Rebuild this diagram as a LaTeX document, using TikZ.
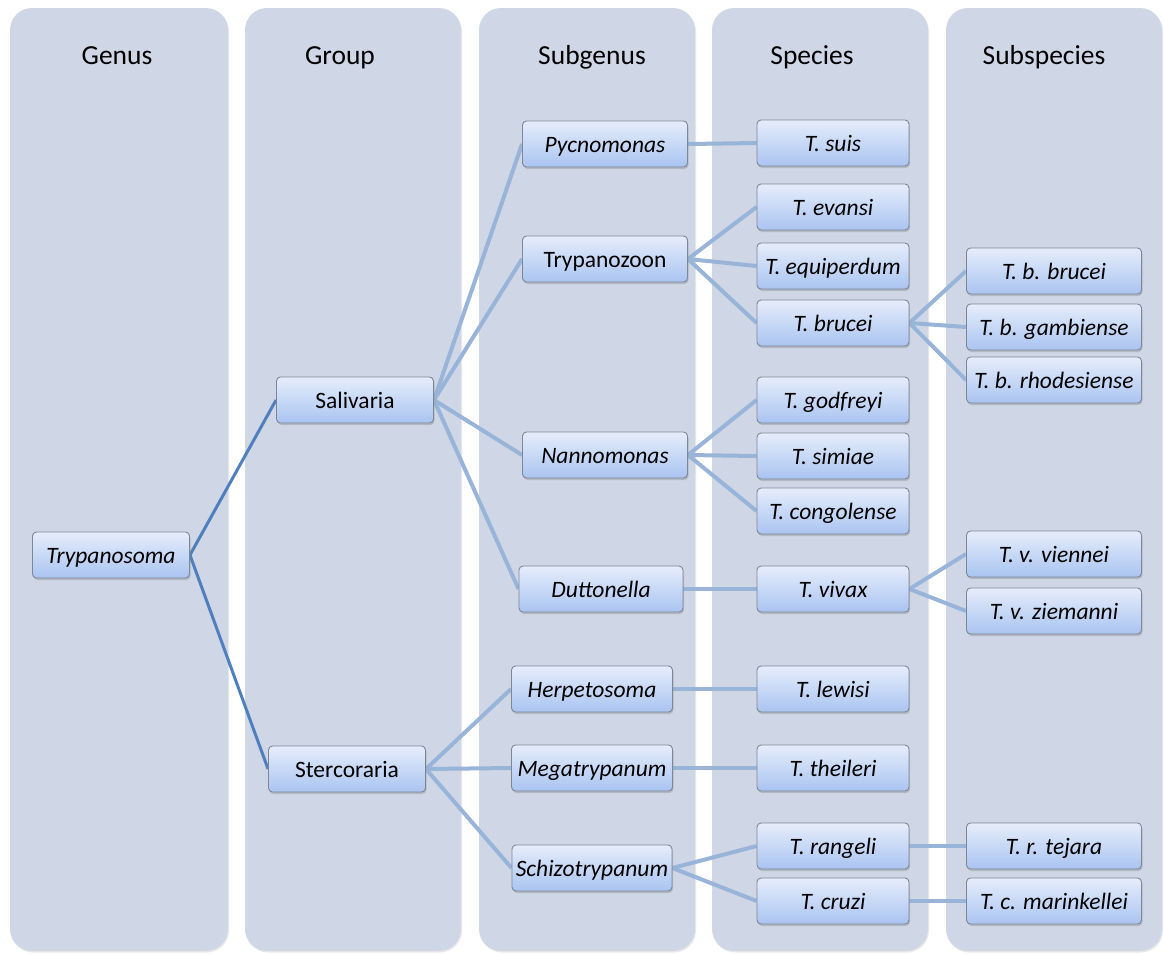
\documentclass[tikz,border=0pt]{standalone}
\usepackage{fontspec}
\setmainfont{Carlito}
\usetikzlibrary{shadows}
\pgfdeclarelayer{cols}
\pgfdeclarelayer{edges}
\pgfsetlayers{cols,edges,main}
\definecolor{colfill}{HTML}{CFD7E6}
\definecolor{boxtop}{HTML}{E6EDFB}
\definecolor{boxbot}{HTML}{A9C4F1}
\definecolor{boxline}{HTML}{7D8796}
\definecolor{darkedge}{HTML}{4F7FBD}
\definecolor{lightedge}{HTML}{98B4D8}
\tikzset{
  x=1pt, y=-1pt,
  colbox/.style={fill=colfill, rounded corners=22pt, drop shadow={opacity=0.18, shadow xshift=1pt, shadow yshift=-1.5pt}},
  header/.style={font=\fontsize{27.5}{32}\selectfont, anchor=base},
  taxon/.style={draw=boxline, line width=0.9pt, rounded corners=4pt, top color=boxtop, bottom color=boxbot,
    minimum height=46pt, inner sep=0pt, text height=16pt, text depth=0pt, font=\fontsize{23.5}{28}\selectfont,
    drop shadow={opacity=0.35, shadow xshift=1pt, shadow yshift=-2pt}},
  gen/.style={taxon, minimum width=157pt},
  grp/.style={taxon, minimum width=157pt},
  sub/.style={taxon, minimum width=165pt},
  spc/.style={taxon, minimum width=152pt},
  ssp/.style={taxon, minimum width=175pt},
  dlink/.style={draw=darkedge, line width=3pt},
  llink/.style={draw=lightedge, line width=4pt},
}
\begin{document}
\begin{tikzpicture}
\useasboundingbox (0,0) rectangle (1164,954);
\begin{pgfonlayer}{cols}
\fill[colbox] (10,8) rectangle (228,951);
\fill[colbox] (245,8) rectangle (461,951);
\fill[colbox] (479,8) rectangle (695,951);
\fill[colbox] (712,8) rectangle (928,951);
\fill[colbox] (946,8) rectangle (1162,951);
\end{pgfonlayer}
\node[header] (hgenus) at (117,64) {Genus};
\node[header] (hgroup) at (340,64) {Group};
\node[header] (hsubgenus) at (592,64) {Subgenus};
\node[header] (hspecies) at (812,64) {Species};
\node[header] (hsubspecies) at (1044,64) {Subspecies};
% genus
\node[gen] (tryp) at (111,555) {\itshape Trypanosoma};
% groups
\node[grp] (sal) at (355,400) {Salivaria};
\node[grp] (ste) at (347,769) {Stercoraria};
% subgenera
\node[sub] (pyc) at (605,144) {\itshape Pycnomonas};
\node[sub] (trz) at (605,259) {Trypanozoon};
\node[sub] (nan) at (605,455) {\itshape Nannomonas};
\node[sub, minimum width=164pt] (dut) at (601,589) {\itshape Duttonella};
\node[sub, minimum width=161pt] (her) at (592,689) {\itshape Herpetosoma};
\node[sub, minimum width=161pt] (meg) at (592,768) {\itshape Megatrypanum};
\node[sub, minimum width=160pt] (sch) at (592,868) {\itshape Schizotrypanum};
% species
\node[spc] (suis) at (833,143) {\itshape T. suis};
\node[spc] (eva) at (833,207) {\itshape T. evansi};
\node[spc] (equ) at (833,266) {\itshape T. equiperdum};
\node[spc] (bru) at (833,323) {\itshape T. brucei};
\node[spc] (god) at (833,400) {\itshape T. godfreyi};
\node[spc] (sim) at (833,456) {\itshape T. simiae};
\node[spc] (con) at (833,511) {\itshape T. congolense};
\node[spc] (viv) at (833,589) {\itshape T. vivax};
\node[spc] (lew) at (833,689) {\itshape T. lewisi};
\node[spc] (the) at (833,768) {\itshape T. theileri};
\node[spc] (ran) at (833,846) {\itshape T. rangeli};
\node[spc] (cru) at (833,901) {\itshape T. cruzi};
% subspecies
\node[ssp] (bb) at (1054,271) {\itshape T. b. brucei};
\node[ssp] (bg) at (1054,327) {\itshape T. b. gambiense};
\node[ssp] (br) at (1054,380) {\itshape T. b. rhodesiense};
\node[ssp] (vv) at (1054,554) {\itshape T. v. viennei};
\node[ssp] (vz) at (1054,611) {\itshape T. v. ziemanni};
\node[ssp] (rt) at (1054,846) {\itshape T. r. tejara};
\node[ssp] (cm) at (1054,901) {\itshape T. c. marinkellei};
\begin{pgfonlayer}{edges}
\draw[dlink] (tryp.east) -- (sal.west);
\draw[dlink] (tryp.east) -- (ste.west);
\draw[llink] (sal.east) -- (pyc.west);
\draw[llink] (sal.east) -- (trz.west);
\draw[llink] (sal.east) -- (nan.west);
\draw[llink] (sal.east) -- (dut.west);
\draw[llink] (ste.east) -- (her.west);
\draw[llink] (ste.east) -- (meg.west);
\draw[llink] (ste.east) -- (sch.west);
\draw[llink] (pyc.east) -- (suis.west);
\draw[llink] (trz.east) -- (eva.west);
\draw[llink] (trz.east) -- (equ.west);
\draw[llink] (trz.east) -- (bru.west);
\draw[llink] (nan.east) -- (god.west);
\draw[llink] (nan.east) -- (sim.west);
\draw[llink] (nan.east) -- (con.west);
\draw[llink] (dut.east) -- (viv.west);
\draw[llink] (her.east) -- (lew.west);
\draw[llink] (meg.east) -- (the.west);
\draw[llink] (sch.east) -- (ran.west);
\draw[llink] (sch.east) -- (cru.west);
\draw[llink] (bru.east) -- (bb.west);
\draw[llink] (bru.east) -- (bg.west);
\draw[llink] (bru.east) -- (br.west);
\draw[llink] (viv.east) -- (vv.west);
\draw[llink] (viv.east) -- (vz.west);
\draw[llink] (ran.east) -- (rt.west);
\draw[llink] (cru.east) -- (cm.west);
\end{pgfonlayer}
\end{tikzpicture}
\end{document}
